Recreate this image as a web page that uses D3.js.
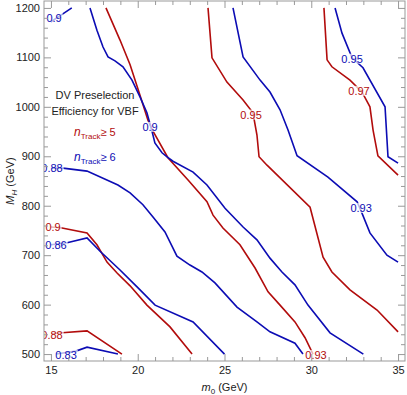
<!DOCTYPE html>
<html>
<head>
<meta charset="utf-8">
<script src="https://cdn.jsdelivr.net/npm/d3@7"></script>
<style>
  body { margin: 0; background: #fff; }
  svg text { font-family: "Liberation Sans", Arial, sans-serif; }
</style>
</head>
<body>
<svg id="chart"></svg>
<script>
// contour lines, points are [m0 (GeV), M_H (GeV)]
// nTrack >= 6 (blue)
const blue083 = [[15.3, 500], [16.44, 506], [17.08, 514], [18.86, 500]];
const blue086 = [[15, 721], [15.93, 725], [17.08, 735], [17.83, 708], [18.98, 670], [20.02, 634], [21.0, 599], [23.19, 565], [25, 500]];
const blue088 = [[15, 876], [15.69, 876], [17.08, 870], [18.86, 842], [19.56, 826], [20.3, 802], [20.88, 777], [21.57, 747], [22.26, 698], [23.01, 680], [23.7, 666], [24.45, 644], [25.72, 595], [26.87, 565], [27.62, 545], [29.06, 522], [29.52, 500]];
const blue090a = [[15, 1172], [15.6, 1186], [16.2, 1200]];
const blue090b = [[17.25, 1200], [17.65, 1155], [18.0, 1121], [18.29, 1101], [18.69, 1093], [19.15, 1081], [19.67, 1054], [20.13, 1020], [20.53, 988], [20.82, 951], [20.99, 927], [21.4, 907], [21.69, 899], [22.03, 890], [23.19, 868], [23.99, 842], [25.03, 795], [26.07, 757], [26.87, 731], [27.62, 694], [28.31, 666], [29.06, 640], [29.81, 599], [31.08, 543], [33, 500]];
const blue093 = [[25.49, 1200], [26.07, 1101], [27.05, 1054], [27.62, 1030], [28.2, 994], [28.66, 953], [29.18, 901], [30.96, 858], [32.64, 808], [32.92, 785], [33.38, 745], [34.36, 700], [35, 686]];
const blue095 = [[31.37, 1200], [31.77, 1149], [32.35, 1099], [32.98, 1079], [34.25, 1000], [34.42, 899], [35, 886]];

// nTrack >= 5 (red)
const red088 = [[15, 541], [15.64, 543], [17.08, 547], [19.09, 500]];
const red090 = [[15, 757], [15.64, 755], [17.08, 745], [17.65, 721], [18.23, 686], [18.81, 664], [19.56, 638], [20.53, 599], [21.86, 555], [23.13, 500]];
const red093 = [[18.17, 1200], [18.98, 1135], [19.56, 1085], [20.07, 1030], [20.59, 973], [20.88, 951], [21.74, 897], [22.9, 852], [23.99, 808], [24.34, 781], [24.91, 755], [25.89, 721], [26.76, 674], [27.51, 626], [28.2, 599], [29.06, 565], [29.64, 533], [30.1, 500]];
const red095 = [[24.05, 1200], [24.28, 1099], [25.14, 1050], [26.07, 1014], [26.64, 988], [26.87, 943], [26.99, 899], [27.45, 882], [29.93, 797], [30.68, 696], [31.19, 666], [32.23, 630], [33.79, 589], [35, 545]];
const red097 = [[30.73, 1200], [30.91, 1095], [31.19, 1081], [32.23, 1054], [32.92, 1030], [33.38, 1000], [33.56, 953], [33.84, 901], [35, 862]];

// contour labels: [m0, M_H, text]
const blueLabels = [[15.18, 1180, "0.9"], [20.71, 959, "0.9"], [15.06, 876, "0.88"], [15.29, 721, "0.86"], [15.87, 498, "0.83"], [32.87, 795, "0.93"], [32.35, 1097, "0.95"]];
const redLabels = [[15.12, 757, "0.9"], [15.06, 539, "0.88"], [26.53, 984, "0.95"], [32.75, 1032, "0.97"], [30.27, 498, "0.93"]];

const xTicks = [15, 20, 25, 30, 35];
const yTicks = [500, 600, 700, 800, 900, 1000, 1100, 1200];

const blueLines = [blue083, blue086, blue088, blue090a, blue090b, blue093, blue095];
const redLines = [red088, red090, red093, red095, red097];

class contourChart {
    constructor(_config) {
        this.config = {
            parentElement: _config.parentElement,
            containerWidth: _config.containerWidth || 407,
            containerHeight: _config.containerHeight || 395,
            margin: _config.margin || {top: 1, right: 2, bottom: 34, left: 44},
            blue: '#0c0cb4',
            red: '#b20c0c'
        };
        this.initVis();
    }

    initVis() {
        let vis = this;

        vis.width = vis.config.containerWidth - vis.config.margin.left - vis.config.margin.right;
        vis.height = vis.config.containerHeight - vis.config.margin.top - vis.config.margin.bottom;

        // plot range has a little padding around the data (15-35, 500-1200)
        vis.xScale = d3.scaleLinear().domain([14.6, 35.4]).range([0, vis.width]);
        vis.yScale = d3.scaleLinear().domain([486, 1214]).range([vis.height, 0]);

        vis.svg = d3.select(vis.config.parentElement)
            .attr('width', vis.config.containerWidth)
            .attr('height', vis.config.containerHeight);

        vis.chart = vis.svg.append('g')
            .attr('transform', `translate(${vis.config.margin.left},${vis.config.margin.top})`);

        vis.svg.append('defs').append('clipPath')
            .attr('id', 'plot-clip')
            .append('rect')
            .attr('width', vis.width)
            .attr('height', vis.height);

        vis.line = d3.line()
            .x(d => vis.xScale(d[0]))
            .y(d => vis.yScale(d[1]));

        vis.renderVis();
    }

    renderVis() {
        let vis = this;

        let plot = vis.chart.append('g').attr('clip-path', 'url(#plot-clip)');

        plot.selectAll('.red-line')
            .data(redLines)
            .join('path')
            .attr('class', 'red-line')
            .attr('d', vis.line)
            .attr('fill', 'none')
            .attr('stroke', vis.config.red)
            .attr('stroke-width', 1.6);

        plot.selectAll('.blue-line')
            .data(blueLines)
            .join('path')
            .attr('class', 'blue-line')
            .attr('d', vis.line)
            .attr('fill', 'none')
            .attr('stroke', vis.config.blue)
            .attr('stroke-width', 1.6);

        // contour labels with a see-through white box
        const addLabels = (labels, color) => {
            let g = plot.append('g').selectAll('g')
                .data(labels)
                .join('g')
                .attr('transform', d => `translate(${vis.xScale(d[0])},${vis.yScale(d[1])})`);
            g.append('rect');
            g.append('text')
                .attr('text-anchor', 'middle')
                .attr('dy', '0.35em')
                .style('font-size', '11px')
                .attr('fill', color)
                .text(d => d[2]);
            g.each(function() {
                let bb = d3.select(this).select('text').node().getBBox();
                d3.select(this).select('rect')
                    .attr('x', bb.x - 1).attr('y', bb.y + 1)
                    .attr('width', bb.width + 2).attr('height', bb.height - 2)
                    .attr('fill', '#fff').attr('fill-opacity', 0.7);
            });
        };
        addLabels(redLabels, vis.config.red);
        addLabels(blueLabels, vis.config.blue);

        // frame
        vis.chart.append('rect')
            .attr('width', vis.width)
            .attr('height', vis.height)
            .attr('fill', 'none')
            .attr('stroke', '#999');

        const xMinor = d3.range(15, 35.01, 1).filter(v => !xTicks.includes(v));
        const yMinor = d3.range(500, 1201, 20).filter(v => !yTicks.includes(v));

        const axes = [
            [d3.axisBottom(vis.xScale).tickValues(xTicks).tickPadding(5).tickFormat(d3.format('d')), `translate(0,${vis.height})`, true],
            [d3.axisBottom(vis.xScale).tickValues(xMinor), `translate(0,${vis.height})`, false],
            [d3.axisTop(vis.xScale).tickValues(xTicks), null, false],
            [d3.axisTop(vis.xScale).tickValues(xMinor), null, false],
            [d3.axisLeft(vis.yScale).tickValues(yTicks).tickPadding(4).tickFormat(d3.format('d')), null, true],
            [d3.axisLeft(vis.yScale).tickValues(yMinor), null, false],
            [d3.axisRight(vis.yScale).tickValues(yTicks), `translate(${vis.width},0)`, false],
            [d3.axisRight(vis.yScale).tickValues(yMinor), `translate(${vis.width},0)`, false]
        ];
        axes.forEach(([ax, tr, major], i) => {
            let isMajor = i % 2 === 0;
            ax.tickSize(isMajor ? -7 : -4);
            if (!major) ax.tickFormat('');
            let g = vis.chart.append('g').attr('class', 'axis');
            if (tr) g.attr('transform', tr);
            g.call(ax);
            g.select('.domain').remove();
            g.selectAll('line').attr('stroke', '#999');
            g.selectAll('text')
                .attr('fill', '#222')
                .style('font-size', '11px')
                .style('font-family', '"Liberation Sans", Arial, sans-serif');
        });

        // axis titles
        let xt = vis.svg.append('text')
            .attr('x', vis.config.margin.left + vis.width / 2)
            .attr('y', 391)
            .attr('text-anchor', 'middle')
            .attr('fill', '#222')
            .style('font-size', '11px');
        xt.append('tspan').style('font-style', 'italic').text('m');
        xt.append('tspan').attr('dy', 3).style('font-size', '8px').text('0');
        xt.append('tspan').attr('dy', -3).text(' (GeV)');

        let yt = vis.svg.append('text')
            .attr('transform', `translate(14,${vis.config.margin.top + vis.height / 2}) rotate(-90)`)
            .attr('text-anchor', 'middle')
            .attr('fill', '#222')
            .style('font-size', '11px');
        yt.append('tspan').style('font-style', 'italic').text('M');
        yt.append('tspan').attr('dy', 3).style('font-size', '8px').style('font-style', 'italic').text('H');
        yt.append('tspan').attr('dy', -3).text(' (GeV)');

        // annotation text
        vis.svg.append('text')
            .attr('x', 95).attr('y', 99)
            .attr('text-anchor', 'middle')
            .attr('fill', '#222')
            .style('font-size', '11px')
            .text('DV Preselection');
        vis.svg.append('text')
            .attr('x', 95).attr('y', 115)
            .attr('text-anchor', 'middle')
            .attr('fill', '#222')
            .style('font-size', '11px')
            .text('Efficiency for VBF');

        const legend = [[136, '5', vis.config.red], [161, '6', vis.config.blue]];
        legend.forEach(([y, n, c]) => {
            let t = vis.svg.append('text')
                .attr('x', 74).attr('y', y)
                .attr('fill', c)
                .style('font-size', '11px');
            t.append('tspan').style('font-style', 'italic').style('font-size', '12px').text('n');
            t.append('tspan').attr('dy', 3).style('font-size', '8px').text('Track');
            t.append('tspan').attr('dy', -3).text('≥ ' + n);
        });
    }
}

new contourChart({parentElement: '#chart'});
</script>
</body>
</html>
